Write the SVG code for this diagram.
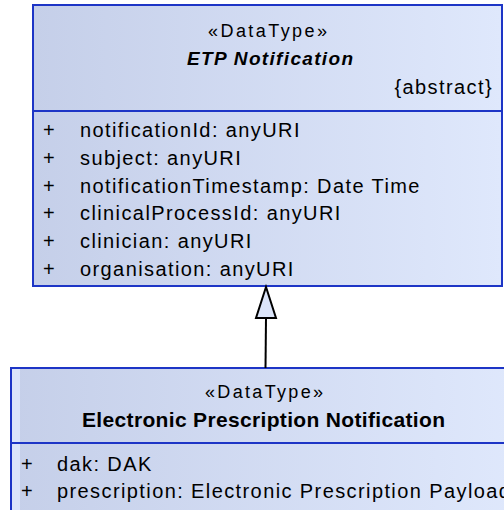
<svg xmlns="http://www.w3.org/2000/svg" width="504" height="510" viewBox="0 0 504 510">
<defs>
<linearGradient id="fillGrad" x1="0" y1="0" x2="1" y2="0">
<stop offset="0" stop-color="#c5cfe9"/>
<stop offset="1" stop-color="#dfe8fc"/>
</linearGradient>
<style>
.box{fill:url(#fillGrad);stroke:#1d35c6;stroke-width:2}
.div{stroke:#1d35c6;stroke-width:2}
text{font-family:"Liberation Sans",Arial,sans-serif;fill:#000}
.st{font-size:18px;text-anchor:middle}
.nm{font-size:19px;font-weight:bold;text-anchor:middle}
.at{font-size:20px;letter-spacing:1.4px}
.conn{stroke:#000;stroke-width:2;fill:none}
.head{fill:#dce5fa;stroke:#000;stroke-width:2}
</style>
</defs>
<g id="ETP_Notification">
<rect class="box" x="33" y="5" width="469" height="281"/>
<line class="div" x1="33" y1="111" x2="502" y2="111"/>
<text class="st" x="267.5" y="37" textLength="119" lengthAdjust="spacing">«DataType»</text>
<text class="nm" x="270" y="65" font-style="italic" textLength="166" lengthAdjust="spacing">ETP Notification</text>
<text class="at" x="493" y="94" text-anchor="end">{abstract}</text>
<text class="at" x="43" y="137">+</text>
<text class="at" x="80" y="137">notificationId: anyURI</text>
<text class="at" x="43" y="165">+</text>
<text class="at" x="80" y="165">subject: anyURI</text>
<text class="at" x="43" y="193">+</text>
<text class="at" x="80" y="193">notificationTimestamp: Date Time</text>
<text class="at" x="43" y="220">+</text>
<text class="at" x="80" y="220">clinicalProcessId: anyURI</text>
<text class="at" x="43" y="248">+</text>
<text class="at" x="80" y="248">clinician: anyURI</text>
<text class="at" x="43" y="276">+</text>
<text class="at" x="80" y="276">organisation: anyURI</text>
</g>
<g id="Electronic_Prescription_Notification">
<rect class="box" x="11" y="368" width="506" height="150"/>
<rect x="12" y="369" width="8" height="148" fill="#dce5fa"/>
<line class="div" x1="11" y1="443" x2="517" y2="443"/>
<text class="st" x="264" y="398" textLength="118" lengthAdjust="spacing">«DataType»</text>
<text class="nm" x="263.5" y="427" textLength="363" lengthAdjust="spacing" style="font-size:21px">Electronic Prescription Notification</text>
<text class="at" x="21" y="471">+</text>
<text class="at" x="57" y="471">dak: DAK</text>
<text class="at" x="21" y="498">+</text>
<text class="at" x="57" y="498">prescription: Electronic Prescription Payload</text>
</g>
<g id="connectors">
<line class="conn" x1="265.5" y1="368" x2="266" y2="318"/>
<polygon class="head" points="266,287 256,318 276,318"/>
</g>
</svg>
